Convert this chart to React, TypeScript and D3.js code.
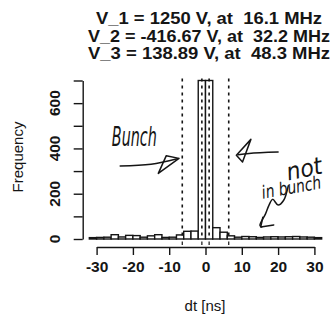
import React, { useEffect, useRef } from 'react';
import * as d3 from 'd3';

// histogram of dt, bins of 2 ns from -32 to 32
const binStarts = [
  -32, -30, -28, -26, -24, -22, -20, -18, -16, -14, -12, -10, -8, -6, -4, -2,
  0, 2, 4, 6, 8, 10, 12, 14, 16, 18, 20, 22, 24, 26, 28, 30,
];
const counts = [
  6, 7, 8, 19, 9, 16, 15, 8, 14, 19, 7, 8, 18, 34, 35, 700,
  700, 50, 30, 14, 8, 11, 10, 7, 9, 10, 9, 10, 11, 9, 8, 6,
];
const binWidth = 2;

const xTicks = [-30, -20, -10, 0, 10, 20, 30];
const yTicks = [0, 100, 200, 300, 400, 500, 600, 700];
const yLabels = [0, 200, 400, 600];
const cutLines = [-6.4, -1, 1, 6.4];

const titleLines = [
  'V_1 = 1250 V, at  16.1 MHz',
  'V_2 = -416.67 V, at  32.2 MHz',
  'V_3 = 138.89 V, at  48.3 MHz',
];

const App = () => {
  const svgRef = useRef<SVGSVGElement>(null);

  useEffect(() => {
    const svg = d3.select(svgRef.current);
    svg.selectAll('*').remove();

    const width = 333;
    const height = 319;
    svg.attr('width', width).attr('height', height).style('background', '#fff');

    const x = d3.scaleLinear().domain([-30, 30]).range([96.6, 314.4]);
    const y = d3.scaleLinear().domain([0, 700]).range([239, 80.5]);
    const ink = '#151515';

    // title
    const title = svg.append('g')
      .attr('font-family', '"Liberation Sans", Arial, sans-serif')
      .attr('font-weight', 'bold')
      .attr('font-size', 17)
      .attr('fill', ink)
      .attr('text-anchor', 'middle');
    titleLines.forEach((t, i) => {
      title.append('text')
        .attr('x', 209)
        .attr('y', 24 + i * 17.5)
        .attr('textLength', i === 0 ? 226 : 242)
        .attr('lengthAdjust', 'spacingAndGlyphs')
        .style('white-space', 'pre')
        .text(t);
    });

    // bars
    svg.append('g')
      .selectAll('rect')
      .data(binStarts)
      .join('rect')
      .attr('x', d => x(d))
      .attr('y', (d, i) => y(counts[i]))
      .attr('width', d => x(d + binWidth) - x(d))
      .attr('height', (d, i) => y(0) - y(counts[i]))
      .attr('fill', '#fff')
      .attr('stroke', ink)
      .attr('stroke-width', 1.4);

    // dotted cut lines + rug
    svg.append('g')
      .selectAll('line')
      .data(cutLines)
      .join('line')
      .attr('x1', d => x(d))
      .attr('x2', d => x(d))
      .attr('y1', y(700) - 2)
      .attr('y2', y(0) - 2)
      .attr('stroke', ink)
      .attr('stroke-width', 1.6)
      .attr('stroke-dasharray', '3 4');
    svg.append('g')
      .selectAll('line')
      .data(cutLines)
      .join('line')
      .attr('x1', d => x(d))
      .attr('x2', d => x(d))
      .attr('y1', 241.5)
      .attr('y2', 245)
      .attr('stroke', ink)
      .attr('stroke-width', 1.2);

    // x axis
    const xAxis = svg.append('g')
      .attr('transform', 'translate(0,247)')
      .call(d3.axisBottom(x).tickValues(xTicks).tickSize(8).tickSizeOuter(0).tickFormat(d3.format('d')));
    xAxis.select('.domain').attr('stroke', ink).attr('stroke-width', 1.4);
    xAxis.selectAll('.tick line').attr('stroke', ink).attr('stroke-width', 1.4);
    xAxis.selectAll('.tick text')
      .attr('y', 25)
      .attr('dy', 0)
      .attr('fill', ink)
      .attr('font-size', 15.5)
      .attr('font-weight', 'bold')
      .attr('font-family', '"Liberation Sans", Arial, sans-serif')
      .text(d => (d as number) < 0 ? '-' + Math.abs(d as number) : String(d));

    // y axis
    const yAxis = svg.append('g')
      .attr('transform', 'translate(82.7,0)')
      .call(d3.axisLeft(y).tickValues(yTicks).tickSize(9).tickSizeOuter(0).tickFormat(() => ''));
    yAxis.select('.domain').attr('stroke', ink).attr('stroke-width', 1.4);
    yAxis.selectAll('.tick line').attr('stroke', ink).attr('stroke-width', 1.4);
    svg.append('g')
      .selectAll('text')
      .data(yLabels)
      .join('text')
      .attr('transform', d => `translate(59.5,${y(d)}) rotate(-90)`)
      .attr('text-anchor', 'middle')
      .attr('fill', ink)
      .attr('font-size', 15.5)
      .attr('font-weight', 'bold')
      .attr('font-family', '"Liberation Sans", Arial, sans-serif')
      .text(d => String(d));

    // axis titles
    svg.append('text')
      .attr('transform', `translate(23,157) rotate(-90)`)
      .attr('text-anchor', 'middle')
      .attr('fill', ink)
      .attr('font-size', 15)
      .attr('font-family', '"Liberation Sans", Arial, sans-serif')
      .text('Frequency');
    svg.append('text')
      .attr('x', 205)
      .attr('y', 311)
      .attr('text-anchor', 'middle')
      .attr('fill', ink)
      .attr('font-size', 15)
      .attr('font-family', '"Liberation Sans", Arial, sans-serif')
      .text('dt [ns]');

    // handwritten notes
    const pen = svg.append('g')
      .attr('fill', 'none')
      .attr('stroke', ink)
      .attr('stroke-width', 1.5)
      .attr('stroke-linecap', 'round')
      .attr('stroke-linejoin', 'round');
    const line = d3.line<[number, number]>().x(d => x(d[0])).y(d => y(d[1])).curve(d3.curveCatmullRom);
    const poly = d3.line<[number, number]>().x(d => x(d[0])).y(d => y(d[1]));
    // left arrow
    pen.append('path').attr('d', line([[-23.5, 322], [-15, 330], [-7.8, 354]]));
    pen.append('path').attr('d', poly([[-7.3, 356], [-13, 290], [-10.8, 368], [-7.3, 356]]));
    // right arrow
    pen.append('path').attr('d', line([[20, 384], [12, 378], [9, 372]]));
    pen.append('path').attr('d', poly([[8.5, 370], [12.5, 440], [10.2, 340], [8.5, 370]]));
    // squiggle
    pen.append('path').attr('d', line([[22.8, 235], [21.5, 170], [20, 150], [18.5, 175], [17.5, 150], [16.5, 110], [15, 60], [15.5, 53]]));
    pen.append('path').attr('d', poly([[15.8, 96], [15.2, 53], [18.8, 62]]));

    const hand = svg.append('g')
      .attr('fill', ink)
      .attr('font-family', '"DejaVu Sans Condensed", "DejaVu Sans", sans-serif')
      .attr('font-style', 'italic');
    hand.append('text')
      .attr('x', x(-25.8))
      .attr('y', y(410))
      .attr('font-size', 26)
      .attr('textLength', 45)
      .attr('lengthAdjust', 'spacingAndGlyphs')
      .text('Bunch');
    hand.append('text')
      .attr('transform', `translate(${x(22.8)},${y(258)}) rotate(-12)`)
      .attr('font-size', 24)
      .attr('textLength', 36)
      .attr('lengthAdjust', 'spacingAndGlyphs')
      .text('not');
    hand.append('text')
      .attr('transform', `translate(${x(15.8)},${y(178)}) rotate(-10)`)
      .attr('font-size', 18)
      .attr('textLength', 60)
      .attr('lengthAdjust', 'spacingAndGlyphs')
      .text('in bunch');
  }, []);

  return <svg ref={svgRef} style={{ position: 'absolute', left: 0, top: 0 }}></svg>;
};

export default App;
